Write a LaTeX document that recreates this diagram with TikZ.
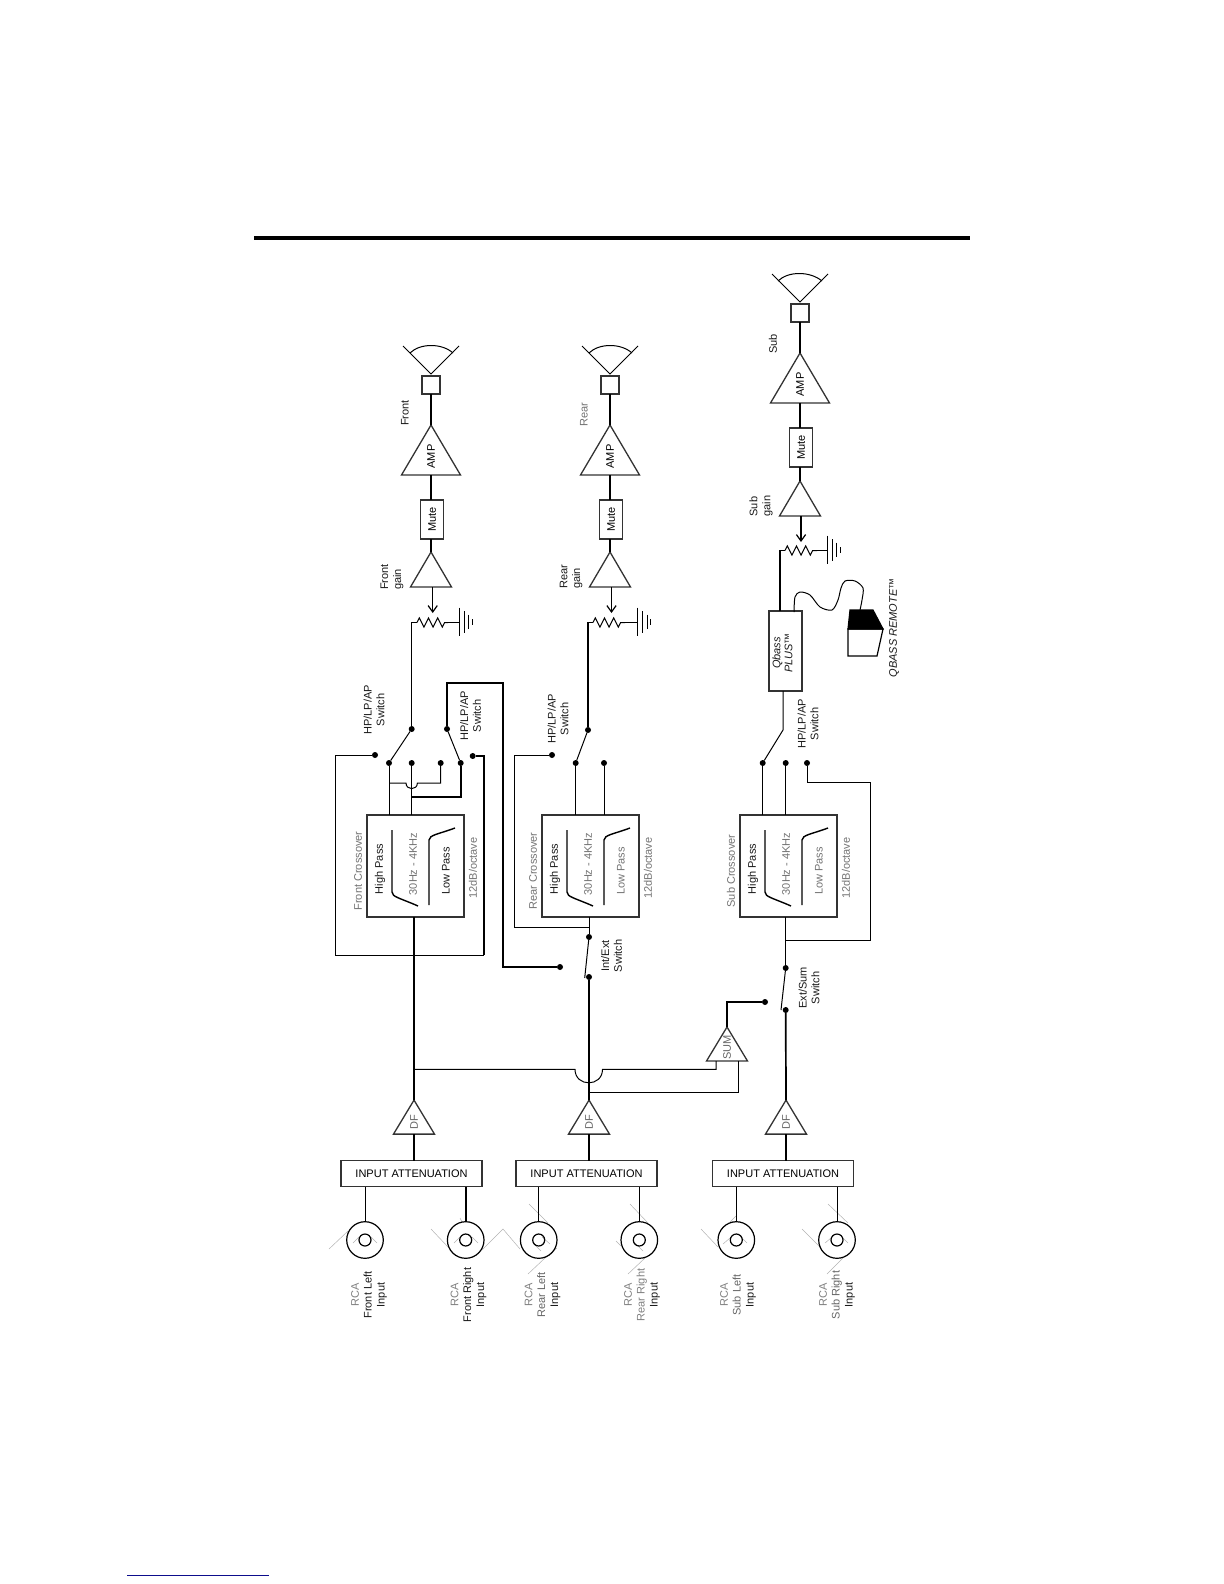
\documentclass[tikz,border=0pt]{standalone}
\usepackage{fontspec}
\setmainfont{Liberation Sans}
\usepackage{tikz}
\usetikzlibrary{shapes.geometric, arrows.meta, positioning, calc, decorations.pathmorphing}
\newcommand{\vtxt}[1]{\rotatebox{90}{#1}}
\tikzstyle{wire} = [line width=0.5pt]
\tikzstyle{bus} = [line width=0.85pt]
\tikzstyle{slopeline} = [line width=0.7pt]
\tikzstyle{faint} = [line width=0.25pt, draw=black!30]
\tikzstyle{pointer} = [line width=0.6pt, -{Straight Barb[length=3.2pt,width=4.6pt]}]
\tikzstyle{zig} = [line width=0.5pt, decorate, decoration={zigzag, segment length=4.6pt, amplitude=2.3pt}]
\tikzstyle{txt} = [rotate=90, inner sep=0pt, text=black!90, font=\fontsize{5.5}{6.4}\selectfont]
\tikzstyle{dimtxt} = [txt, text=black!55]
\tikzstyle{base} = [draw=black!80, line width=0.65pt, outer sep=0pt, inner sep=0pt, font=\fontsize{5.5}{6.4}\selectfont]
\tikzstyle{spkbox} = [base, rectangle, minimum width=9pt, minimum height=9pt]
\tikzstyle{mutebox} = [base, rectangle, minimum width=11.5pt, minimum height=19.5pt]
\tikzstyle{inbox} = [base, rectangle, minimum width=70.5pt, minimum height=13pt]
\tikzstyle{xoverbox} = [base, rectangle, minimum width=48.5pt, minimum height=51pt]
\tikzstyle{qbassbox} = [base, rectangle, minimum width=16.5pt, minimum height=40pt]
\tikzstyle{amptri} = [base, isosceles triangle, isosceles triangle stretches, shape border rotate=90, minimum width=29.5pt, minimum height=25pt]
\tikzstyle{gaintri} = [base, isosceles triangle, isosceles triangle stretches, shape border rotate=90, minimum width=20.5pt, minimum height=17.5pt]
\tikzstyle{dftri} = [base, isosceles triangle, isosceles triangle stretches, shape border rotate=90, minimum width=20.5pt, minimum height=17pt, text=black!60]
\tikzstyle{dotnode} = [circle, fill=black, inner sep=0pt, minimum size=3pt, outer sep=0pt]
\tikzstyle{rcaouter} = [circle, draw=black, line width=0.6pt, inner sep=0pt, minimum size=18.3pt, outer sep=0pt]
\tikzstyle{rcainner} = [circle, draw=black, line width=0.6pt, inner sep=0pt, minimum size=6pt, outer sep=0pt]
\definecolor{linkblue}{rgb}{0.05,0.05,0.55}
\begin{document}
\begin{tikzpicture}[x=0.5pt, y=-0.5pt]
    \useasboundingbox (0,0) rectangle (1224,1584);
    \coordinate (ruleA) at (254,238);
    \coordinate (ruleB) at (970,238);
    \coordinate (linkA) at (127,1575);
    \coordinate (linkB) at (269,1575);
    \draw [line width=2pt] (ruleA) -- (ruleB);
    \draw [line width=0.5pt, draw=linkblue] (linkA) -- (linkB);

    \draw [faint] (329,1249) -- (348,1231) (353,1243) -- (359,1237) (371,1237) -- (377,1243);
    \draw [faint] (431,1229) -- (448,1247) (454,1243) -- (460,1237) (472,1237) -- (478,1243) (462,1222) -- (460,1218);
    \draw [faint] (482,1250) -- (503,1229) -- (520,1249);
    \draw [faint] (529,1204) -- (548,1223) (528,1274) -- (545,1258) (542,1237) -- (550,1244) (533,1243) -- (541,1251) (557,1248) -- (545,1258);
    \draw [faint] (630,1204) -- (648,1223) (616,1241) -- (621,1246) (628,1274) -- (645,1258) (635,1243) -- (643,1251);
    \draw [faint] (701,1229) -- (718,1247) (730,1222) -- (736,1216) (723,1244) -- (730,1238) (742,1238) -- (747,1243);
    \draw [faint] (828,1204) -- (848,1223) (802,1229) -- (820,1247) (827,1274) -- (843,1258) (825,1243) -- (831,1238) (843,1238) -- (848,1243);

    \node (spkF) [spkbox] at (431,385) {};
    \node (ampF) [amptri, below=15.5pt of spkF] {\vtxt{AMP}};
    \node (muteF) [mutebox, below=12.5pt of ampF, xshift=0.6pt] {\vtxt{Mute}};
    \node (gainF) [gaintri, below=6.5pt of muteF, xshift=-0.6pt] {};
    \node (spkR) [spkbox] at (610,385) {};
    \node (ampR) [amptri, below=15.5pt of spkR] {\vtxt{AMP}};
    \node (muteR) [mutebox, below=12.5pt of ampR, xshift=0.6pt] {\vtxt{Mute}};
    \node (gainR) [gaintri, below=6.5pt of muteR, xshift=-0.6pt] {};
    \node (spkS) [spkbox] at (800,313) {};
    \node (ampS) [amptri, below=15.5pt of spkS] {\vtxt{AMP}};
    \node (muteS) [mutebox, below=12.5pt of ampS, xshift=0.6pt] {\vtxt{Mute}};
    \node (gainS) [gaintri, below=7pt of muteS, xshift=-0.6pt] {};

    \draw [wire] (403,346) -- (431,374) -- (459,346);
    \draw [wire] (410,353) .. controls (420,343) and (442,343) .. (453,353);
    \draw [wire] (582,346) -- (610,374) -- (638,346);
    \draw [wire] (589,353) .. controls (599,343) and (621,343) .. (632,353);
    \draw [wire] (772,274) -- (800,302) -- (828,274);
    \draw [wire] (778,281) .. controls (788,271) and (810,271) .. (822,281);

    \draw [bus] (spkF) -- (ampF);
    \draw [bus] (ampF.south) -- (ampF.south |- muteF.north);
    \draw [bus] (gainF.north) -- (gainF.north |- muteF.south);
    \draw [bus] (spkR) -- (ampR);
    \draw [bus] (ampR.south) -- (ampR.south |- muteR.north);
    \draw [bus] (gainR.north) -- (gainR.north |- muteR.south);
    \draw [bus] (spkS) -- (ampS);
    \draw [bus] (ampS.south) -- (ampS.south |- muteS.north);
    \draw [bus] (gainS.north) -- (gainS.north |- muteS.south);

    \node (lblFront) [txt] at (405,413) {Front};
    \node (lblRear) [dimtxt] at (584,415) {Rear};
    \node (lblSub) [txt] at (773,344) {Sub};
    \node (lblFrontGain) [txt, align=left] at (392,577) {Front\\gain};
    \node (lblRearGain) [txt, align=left] at (571,577) {Rear\\gain};
    \node (lblSubGain) [txt, align=left] at (761,506) {Sub\\gain};

    \coordinate (tipF) at (432.7,613);
    \coordinate (tipR) at (611.5,613);
    \coordinate (tipS) at (801,542);
    \coordinate (potFa) at (417,622.5);
    \coordinate (potFb) at (448,622.5);
    \coordinate (gndF) at (459,622.5);
    \coordinate (potRa) at (593,622.5);
    \coordinate (potRb) at (625,622.5);
    \coordinate (gndR) at (637.5,622.5);
    \coordinate (potSa) at (785,550.5);
    \coordinate (potSb) at (817,550.5);
    \coordinate (gndS) at (827,550.5);
    \draw [pointer] (tipF |- gainF.south) -- (tipF);
    \draw [pointer] (tipR |- gainR.south) -- (tipR);
    \draw [pointer] (tipS |- gainS.south) -- (tipS);
    \draw [zig] (potFa) -- (potFb);
    \draw [zig] (potRa) -- (potRb);
    \draw [zig] (potSa) -- (potSb);
    \draw [wire] (potFb) -- (gndF);
    \draw [wire] (potRb) -- (gndR);
    \draw [wire] (potSb) -- (gndS);
    \draw [wire] (gndF) ++(0,-15) -- ++(0,28) ++(5,-3) -- ++(0,-22) ++(4.5,4) -- ++(0,14) ++(3.5,-4) -- ++(0,-6);
    \draw [wire] (gndR) ++(0,-15) -- ++(0,28) ++(5,-3) -- ++(0,-22) ++(4.5,4) -- ++(0,14) ++(3.5,-4) -- ++(0,-6);
    \draw [wire] (gndS) ++(0,-15) -- ++(0,28) ++(5,-3) -- ++(0,-22) ++(4.5,4) -- ++(0,14) ++(3.5,-4) -- ++(0,-6);

    \node (xoverF) [xoverbox] at (415.5,866) {};
    \node (xoverR) [xoverbox] at (590.5,866) {};
    \node (xoverS) [xoverbox] at (788.5,866) {};

    \node (hpF) [txt] at ($(xoverF.west)+(13,3)$) {High Pass};
    \node (rangeF) [dimtxt] at ($(xoverF.west)+(46,-2)$) {30Hz - 4KHz};
    \node (lpF) [txt] at ($(xoverF.west)+(79,5)$) {Low Pass};
    \node (nameF) [dimtxt] at ($(xoverF.west)+(-9,5)$) {Front Crossover};
    \node (slopeF) [dimtxt] at ($(xoverF.west)+(106,2)$) {12dB/octave};
    \draw [slopeline] ($(xoverF.west)+(25,-36)$) -- ++(0,62) .. controls +(0,5) and +(-18,-8) .. ++(26,14);
    \draw [slopeline] ($(xoverF.west)+(62,39)$) -- ++(0,-65) .. controls +(0,-5) and +(-16,6) .. ++(26,-12);
    \node (hpR) [txt] at ($(xoverR.west)+(13,3)$) {High Pass};
    \node (rangeR) [dimtxt] at ($(xoverR.west)+(46,-2)$) {30Hz - 4KHz};
    \node (lpR) [dimtxt] at ($(xoverR.west)+(79,5)$) {Low Pass};
    \node (nameR) [dimtxt] at ($(xoverR.west)+(-9,5)$) {Rear Crossover};
    \node (slopeR) [dimtxt] at ($(xoverR.west)+(106,2)$) {12dB/octave};
    \draw [slopeline] ($(xoverR.west)+(25,-36)$) -- ++(0,62) .. controls +(0,5) and +(-18,-8) .. ++(26,14);
    \draw [slopeline] ($(xoverR.west)+(62,39)$) -- ++(0,-65) .. controls +(0,-5) and +(-16,6) .. ++(26,-12);
    \node (hpS) [txt] at ($(xoverS.west)+(13,3)$) {High Pass};
    \node (rangeS) [dimtxt] at ($(xoverS.west)+(46,-2)$) {30Hz - 4KHz};
    \node (lpS) [dimtxt] at ($(xoverS.west)+(79,5)$) {Low Pass};
    \node (nameS) [dimtxt] at ($(xoverS.west)+(-9,5)$) {Sub Crossover};
    \node (slopeS) [dimtxt] at ($(xoverS.west)+(106,2)$) {12dB/octave};
    \draw [slopeline] ($(xoverS.west)+(25,-36)$) -- ++(0,62) .. controls +(0,5) and +(-18,-8) .. ++(26,14);
    \draw [slopeline] ($(xoverS.west)+(62,39)$) -- ++(0,-65) .. controls +(0,-5) and +(-16,6) .. ++(26,-12);

    \node (pivotFa) [dotnode] at (411.7,729) {};
    \node (pivotFb) [dotnode] at (447,729) {};
    \node (throwFa) [dotnode] at (389,763) {};
    \node (throwFb) [dotnode] at (411.7,763) {};
    \node (throwFc) [dotnode] at (440.7,763) {};
    \node (throwFd) [dotnode] at (460.7,763) {};
    \node (apFa) [dotnode] at (375,755) {};
    \node (apFb) [dotnode] at (472.7,756) {};
    \coordinate (bumpFa) at (406,783);
    \coordinate (bumpFb) at (417.4,783);
    \coordinate (tapFa) at (411.7,797);
    \coordinate (cornFa) at (502.7,682.7);
    \coordinate (cornFb) at (335,955);
    \coordinate (cornFc) at (484,955);
    \node (lblSwFa) [txt, align=center] at (374,710) {HP/LP/AP\\Switch};
    \node (lblSwFb) [txt, align=center] at (470.5,716) {HP/LP/AP\\Switch};
    \draw [wire] (pivotFa) |- (potFa);
    \draw [wire] (pivotFa) -- (throwFa);
    \draw [wire] (pivotFb) -- (throwFd);
    \draw [wire] (throwFa) -- (throwFa |- xoverF.north);
    \draw [wire] (throwFb) -- (throwFb |- xoverF.north);
    \draw [wire] (throwFc) |- (bumpFb) .. controls +(0,7.5) and +(0,7.5) .. (bumpFa) -- (throwFa |- bumpFa);
    \draw [bus] (throwFd) |- (tapFa);
    \draw [wire] (apFa) -| (cornFb) -- (cornFc);
    \draw [bus] (cornFc) |- (apFb);

    \node (pivotR) [dotnode] at (588,730) {};
    \node (throwRa) [dotnode] at (575.7,763) {};
    \node (throwRb) [dotnode] at (604,763) {};
    \node (apRa) [dotnode] at (552,755) {};
    \node (dotRa) [dotnode] at (589,937) {};
    \node (dotRb) [dotnode] at (589,977) {};
    \node (dotRc) [dotnode] at (560,967) {};
    \coordinate (armR) at (584.7,978);
    \coordinate (tapRa) at (589,927);
    \node (lblSwR) [txt, align=center] at (558,719) {HP/LP/AP\\Switch};
    \node (lblIntExt) [txt, align=center] at (611.5,956) {Int/Ext\\Switch};
    \draw [bus] (pivotR) |- (potRa);
    \draw [wire] (pivotR) -- (throwRa);
    \draw [wire] (throwRa) -- (throwRa |- xoverR.north);
    \draw [wire] (throwRb) -- (throwRb |- xoverR.north);
    \draw [wire] (apRa) -- ++(-38,0) |- (tapRa);
    \draw [wire] (dotRa) -- (dotRa |- xoverR.south);
    \draw [wire] (dotRa) -- (armR);
    \draw [bus] (pivotFb) |- (cornFa) |- (dotRc);

    \node (throwSa) [dotnode] at (762.7,763) {};
    \node (throwSb) [dotnode] at (785.7,763) {};
    \node (throwSc) [dotnode] at (807,763) {};
    \node (dotSa) [dotnode] at (785.7,968) {};
    \node (dotSb) [dotnode] at (785.7,1010) {};
    \node (dotSc) [dotnode] at (765,1002) {};
    \coordinate (pivotS) at (783,730);
    \coordinate (armS) at (781,1010);
    \coordinate (cornSa) at (870.7,940);
    \coordinate (tapSa) at (785.7,940);
    \coordinate (feedS) at (780,550.5);
    \node (qbassS) [qbassbox] at (785.5,651) {};
    \node (lblQbass) [txt, align=center, font=\fontsize{5.5}{6}\selectfont\itshape] at (782.5,653) {Qbass\\PLUS™};
    \node (lblRemote) [txt, font=\fontsize{5.5}{6.4}\selectfont\itshape] at (894,628) {QBASS REMOTE™};
    \node (lblSwS) [txt, align=center] at (808,724) {HP/LP/AP\\Switch};
    \node (lblExtSum) [txt, align=center] at (809,988) {Ext/Sum\\Switch};
    \draw [bus] (feedS |- qbassS.north) -- (feedS) -- (potSa);
    \draw [wire] (throwSa) -- (pivotS) -- (pivotS |- qbassS.south);
    \draw [wire] (throwSa) -- (throwSa |- xoverS.north);
    \draw [wire] (throwSb) -- (throwSb |- xoverS.north);
    \draw [wire] (throwSc) -- ++(0,19) -| (cornSa) -- (tapSa);
    \draw [wire] (dotSa) -- (dotSa |- xoverS.south);
    \draw [wire] (dotSa) -- (armS);
    \draw [wire] plot [smooth] coordinates {(794,612) (795,597) (800,592) (810,595) (820,607) (832,610) (838,600) (841,588) (845,581) (855,581) (863,588) (862,600) (860,610)};
    \draw [line width=0.6pt, fill=black] (850,610) -- (873,610) -- (883,629) -- (848,629) -- cycle;
    \draw [line width=0.6pt] (848,629) -- (883,629) -- (877,656) -- (848,656) -- cycle;

    \node (inF) [inbox] at (411.5,1173.7) {INPUT ATTENUATION};
    \node (dfF) [dftri, above=13.3pt of inF, xshift=1.25pt] {\vtxt{DF}};
    \node (inR) [inbox] at (586.5,1173.7) {INPUT ATTENUATION};
    \node (dfR) [dftri, above=13.3pt of inR, xshift=1.25pt] {\vtxt{DF}};
    \node (inS) [inbox] at (783,1173.7) {INPUT ATTENUATION};
    \node (dfS) [dftri, above=13.3pt of inS, xshift=1.5pt] {\vtxt{DF}};
    \node (sumS) [dftri, anchor=north] at (727,1027) {\vtxt{SUM}};
    \coordinate (bumpRa) at (575,1069.3);
    \coordinate (bumpRb) at (602.5,1069.3);
    \coordinate (tapRb) at (589,1092.7);
    \coordinate (sumA) at (716,1061);
    \coordinate (sumB) at (738,1061);
    \draw [bus] (dfF.north) -- (dfF.north |- xoverF.south);
    \draw [bus] (dfR.north) -- (dotRb);
    \draw [bus] (dfS.north) -- (dotSb);
    \draw [bus] (dfF.south) -- (dfF.south |- inF.north);
    \draw [bus] (dfR.south) -- (dfR.south |- inR.north);
    \draw [bus] (dfS.south) -- (dfS.south |- inS.north);
    \draw [wire] (dfF.north |- bumpRa) -- (bumpRa) .. controls +(0,18) and +(0,18) .. (bumpRb) -| (sumA);
    \draw [wire] (tapRb) -| (sumB);
    \draw [bus] (sumS.north) |- (dotSc);

    \node (rcaFa) [rcaouter] at (365,1240) {};
    \node (rcaFb) [rcaouter] at (465.7,1240) {};
    \node (rcaRa) [rcaouter] at (538.7,1240) {};
    \node (rcaRb) [rcaouter] at (639.3,1240) {};
    \node (rcaSa) [rcaouter] at (736.3,1240) {};
    \node (rcaSb) [rcaouter] at (837,1240) {};
    \node (coreFa) [rcainner] at (rcaFa) {};
    \node (coreFb) [rcainner] at (rcaFb) {};
    \node (coreRa) [rcainner] at (rcaRa) {};
    \node (coreRb) [rcainner] at (rcaRb) {};
    \node (coreSa) [rcainner] at (rcaSa) {};
    \node (coreSb) [rcainner] at (rcaSb) {};
    \draw [wire] (rcaFa.north) -- (rcaFa.north |- inF.south);
    \draw [bus] (rcaFb.north) -- (rcaFb.north |- inF.south);
    \draw [wire] (rcaRa.north) -- (rcaRa.north |- inR.south);
    \draw [wire] (rcaRb.north) -- (rcaRb.north |- inR.south);
    \draw [wire] (rcaSa.north) -- (rcaSa.north |- inS.south);
    \draw [wire] (rcaSb.north) -- (rcaSb.north |- inS.south);
    \node (lblFa) [txt, align=center] at (369,1295) {\textcolor{black!50}{RCA}\\Front Left\\Input};
    \node (lblFb) [txt, align=center] at (468.5,1295) {\textcolor{black!50}{RCA}\\Front Right\\Input};
    \node (lblRa) [txt, align=center] at (542.5,1295) {\textcolor{black!50}{RCA}\\\textcolor{black!60}{Rear Left}\\Input};
    \node (lblRb) [txt, align=center] at (642,1295) {\textcolor{black!50}{RCA}\\\textcolor{black!50}{Rear Right}\\Input};
    \node (lblSa) [txt, align=center] at (738,1295) {\textcolor{black!50}{RCA}\\\textcolor{black!60}{Sub Left}\\Input};
    \node (lblSb) [txt, align=center] at (837,1295) {\textcolor{black!50}{RCA}\\\textcolor{black!60}{Sub Right}\\Input};
\end{tikzpicture}
\end{document}
